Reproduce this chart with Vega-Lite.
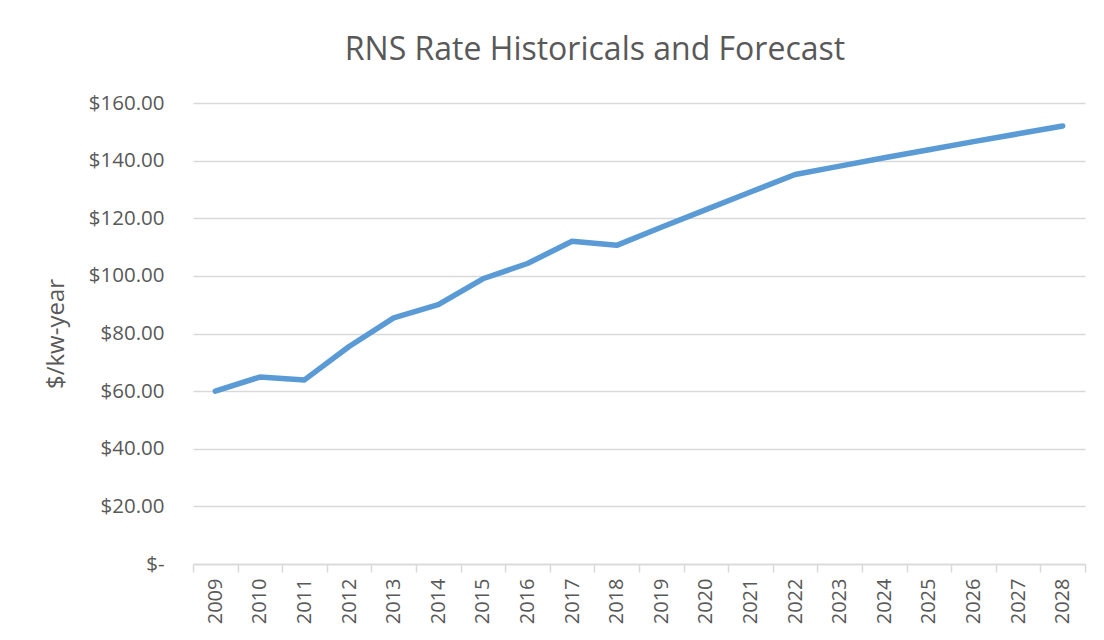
{
  "$schema": "https://vega.github.io/schema/vega-lite/v6.json",
  "width": 892,
  "height": 461,
  "autosize": {"type": "none"},
  "padding": {"left": 193, "top": 103, "right": 19, "bottom": 76},
  "background": "white",
  "title": {
    "text": "RNS Rate Historicals and Forecast",
    "font": "Open Sans",
    "fontSize": 32,
    "fontWeight": "normal",
    "color": "#595959",
    "anchor": "middle",
    "dx": -44,
    "offset": 26
  },
  "config": {
    "view": {"stroke": null},
    "axis": {"labelFont": "Open Sans", "titleFont": "Open Sans", "labelColor": "#595959", "titleColor": "#595959"}
  },
  "data": {
    "values": [
      {"year": "2009", "rate": 60.0},
      {"year": "2010", "rate": 64.9},
      {"year": "2011", "rate": 63.9},
      {"year": "2012", "rate": 75.5},
      {"year": "2013", "rate": 85.4},
      {"year": "2014", "rate": 90.0},
      {"year": "2015", "rate": 99.0},
      {"year": "2016", "rate": 104.3},
      {"year": "2017", "rate": 112.0},
      {"year": "2018", "rate": 110.6},
      {"year": "2019", "rate": 116.9},
      {"year": "2020", "rate": 123.0},
      {"year": "2021", "rate": 129.1},
      {"year": "2022", "rate": 135.2},
      {"year": "2023", "rate": 138.1},
      {"year": "2024", "rate": 141.0},
      {"year": "2025", "rate": 143.8},
      {"year": "2026", "rate": 146.6},
      {"year": "2027", "rate": 149.3},
      {"year": "2028", "rate": 152.0}
    ]
  },
  "mark": {"type": "line", "color": "#5B9BD5", "strokeWidth": 5.5, "strokeCap": "round", "strokeJoin": "round"},
  "encoding": {
    "x": {
      "field": "year",
      "type": "ordinal",
      "bandPosition": 0.5,
      "scale": {"type": "band", "paddingInner": 0, "paddingOuter": 0},
      "axis": {
        "title": null,
        "labelAngle": -90,
        "labelFontSize": 20,
        "labelPadding": 6,
        "tickBand": "extent",
        "tickSize": 8,
        "tickColor": "#d9d9d9",
        "tickWidth": 1.5,
        "domainColor": "#d9d9d9",
        "domainWidth": 1.5,
        "grid": false
      }
    },
    "y": {
      "field": "rate",
      "type": "quantitative",
      "scale": {"domain": [0, 160], "nice": false},
      "axis": {
        "title": "$/kw-year",
        "titleFontSize": 24,
        "titleFontWeight": "normal",
        "titlePadding": 20,
        "values": [0, 20, 40, 60, 80, 100, 120, 140, 160],
        "labelExpr": "datum.value == 0 ? '$-\u2003' : '$' + format(datum.value, '.2f')",
        "labelFontSize": 20.5,
        "labelPadding": 29,
        "ticks": false,
        "domain": false,
        "grid": true,
        "gridColor": "#d9d9d9",
        "gridWidth": 1.5
      }
    }
  }
}
